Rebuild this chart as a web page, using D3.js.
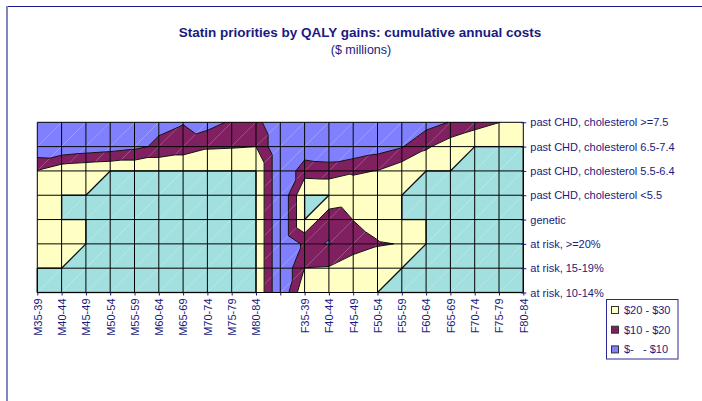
<!DOCTYPE html>
<html>
<head>
<meta charset="utf-8">
<script src="https://d3js.org/d3.v7.min.js"></script>
<style>
  body { margin: 0; background: #fff; }
  text { font-family: Arial, "Liberation Sans", sans-serif; fill: #1a1a80; }
</style>
</head>
<body>
<div id="chart"></div>
<script>

// categories along the bottom (blank column between the sexes)
var xCats = ["M35-39", "M40-44", "M45-49", "M50-54", "M55-59", "M60-64", "M65-69", "M70-74", "M75-79", "M80-84", "",
             "F35-39", "F40-44", "F45-49", "F50-54", "F55-59", "F60-64", "F65-69", "F70-74", "F75-79", "F80-84"];

// series, bottom to top
var yCats = ["at risk, 10-14%", "at risk, 15-19%", "at risk, >=20%", "genetic",
             "past CHD, cholesterol <5.5", "past CHD, cholesterol 5.5-6.4",
             "past CHD, cholesterol 6.5-7.4", "past CHD, cholesterol >=7.5"];

// cumulative cost ($ millions) for each series, one value per x category (30 = top of axis)
var risk10_14 = [30, 30, 30, 30, 30, 30, 30, 30, 30, 30, 0, 28.5, 27, 28, 30, 30, 30, 30, 30, 30, 30];
var risk15_19 = [30, 30, 30, 30, 30, 30, 30, 30, 30, 30, 0, 20.2, 20.8, 26.4, 28.5, 30, 30, 30, 30, 30, 30];
var risk20    = [26, 27, 30, 30, 30, 30, 30, 30, 30, 30, 0, 12, 9.5, 15, 19, 20.5, 30, 30, 30, 30, 30];
var genetic   = [27, 30, 30, 30, 30, 30, 30, 30, 30, 30, 0, 30, 12.5, 20.2, 25, 30, 30, 30, 30, 30, 30];
var chdLt55   = [26, 30, 30, 30, 30, 30, 30, 30, 30, 30, 0, 30, 30, 27, 28, 30, 30, 30, 30, 30, 30];
var chd55_64  = [20.6, 27.5, 28.9, 30, 30, 30, 30, 30, 30, 30, 0, 15.7, 15, 18.5, 20.3, 26.5, 30, 30, 30, 30, 30];
var chd65_74  = [1.3, 0.5, 3, 4.8, 7.5, 12, 14.8, 18.8, 19.3, 20, 0, 3, 1.1, 1.7, 5.4, 9.3, 18.4, 25.6, 30, 30, 30];
var chdGe75   = [0.5, 0.5, 1, 1.5, 3, 7.5, 9.5, 5.6, 11.7, 13.5, 0, 1, 1, 1, 2, 4, 6, 10.5, 15.5, 19.8, 24];

var bandLabels = ["$-   - $10", "$10 - $20", "$20 - $30"];
var bandBreaks = [10, 20, 30];

var grid = [risk10_14, risk15_19, risk20, genetic, chdLt55, chd55_64, chd65_74, chdGe75];

var colors = ["#8080ff", "#802060", "#ffffc4", "#a2e0e0"];
var lineColor = "#101010";
var navy = "#1a1a80";

var W = 702, H = 401;
var svg = d3.select("#chart").append("svg")
    .attr("width", W).attr("height", H);

// chart area frame
svg.append("line").attr("x1", 7).attr("x2", W).attr("y1", 6.5).attr("y2", 6.5)
    .attr("stroke", "#1c1c8c").attr("stroke-width", 1);
svg.append("line").attr("x1", 7).attr("x2", 7).attr("y1", 6).attr("y2", H)
    .attr("stroke", "#8484c4").attr("stroke-width", 2);

// scales
var xPoint = d3.scalePoint().domain(xCats).range([37.3, 523.3]);
var yPoint = d3.scalePoint().domain(yCats).range([292.5, 122.3]);
var x = d3.scaleLinear().domain([0, xCats.length - 1]).range(xPoint.range());
var y = d3.scaleLinear().domain([0, yCats.length - 1]).range(yPoint.range());

// title
svg.append("text").attr("x", 360).attr("y", 37).attr("text-anchor", "middle")
    .style("font-weight", "bold").style("font-size", "13.5px")
    .text("Statin priorities by QALY gains: cumulative annual costs");
svg.append("text").attr("x", 361).attr("y", 54).attr("text-anchor", "middle")
    .style("font-size", "12.5px")
    .text("($ millions)");

// triangles: each cell split along the lower-left / upper-right diagonal
function pt(c, r) { return {c: c, r: r, v: grid[r][c]}; }
var tris = [];
for (var r = 0; r < yCats.length - 1; r++) {
  for (var c = 0; c < xCats.length - 1; c++) {
    tris.push([pt(c, r), pt(c + 1, r), pt(c + 1, r + 1)]);
    tris.push([pt(c, r), pt(c + 1, r + 1), pt(c, r + 1)]);
  }
}

function clip(poly, t, above) {
  var out = [];
  for (var i = 0; i < poly.length; i++) {
    var a = poly[i], b = poly[(i + 1) % poly.length];
    var ina = above ? a.v >= t : a.v < t;
    var inb = above ? b.v >= t : b.v < t;
    if (ina) out.push(a);
    if (ina !== inb) {
      var k = (t - a.v) / (b.v - a.v);
      out.push({c: a.c + k * (b.c - a.c), r: a.r + k * (b.r - a.r), v: t});
    }
  }
  return out;
}

var line = d3.line().x(function(d) { return x(d.c); }).y(function(d) { return y(d.r); });

var fills = svg.append("g");
var lims = [-Infinity].concat(bandBreaks).concat([Infinity]);
tris.forEach(function(tri) {
  for (var b = 0; b < lims.length - 1; b++) {
    var p = tri;
    if (lims[b] > -Infinity) p = clip(p, lims[b], true);
    if (lims[b + 1] < Infinity) p = clip(p, lims[b + 1], false);
    if (p.length < 3) continue;
    var area = Math.abs(d3.polygonArea(p.map(function(d) { return [x(d.c), y(d.r)]; })));
    if (area < 0.01) continue;
    fills.append("path").attr("d", line(p) + "Z").attr("fill", colors[b]);
  }
});

// contour lines at 10 and 20
var iso = svg.append("g").attr("stroke", lineColor).attr("stroke-width", 1).attr("fill", "none");
[10, 20].forEach(function(t) {
  tris.forEach(function(tri) {
    var seg = [];
    for (var i = 0; i < 3; i++) {
      var a = tri[i], b = tri[(i + 1) % 3];
      if ((a.v >= t) !== (b.v >= t)) {
        var k = (t - a.v) / (b.v - a.v);
        seg.push({c: a.c + k * (b.c - a.c), r: a.r + k * (b.r - a.r)});
      }
    }
    if (seg.length === 2) iso.append("path").attr("d", line(seg));
  });
});

// outline of the region at the top of the axis
var edges = {};
tris.forEach(function(tri) {
  if (!tri.every(function(d) { return d.v >= 30; })) return;
  for (var i = 0; i < 3; i++) {
    var a = tri[i], b = tri[(i + 1) % 3];
    var key = [a.c + "," + a.r, b.c + "," + b.r].sort().join("|");
    if (!edges[key]) edges[key] = {n: 0, s: [a, b]};
    edges[key].n++;
  }
});
Object.keys(edges).forEach(function(k) {
  if (edges[k].n === 1) iso.append("path").attr("d", line(edges[k].s)).attr("stroke-width", 1.3);
});

// grid lines
var gridG = svg.append("g").attr("stroke", "#000").attr("stroke-width", 1);
xCats.forEach(function(d) {
  gridG.append("line").attr("x1", xPoint(d)).attr("x2", xPoint(d))
      .attr("y1", yPoint.range()[1]).attr("y2", yPoint.range()[0]);
});
yCats.forEach(function(d) {
  gridG.append("line").attr("y1", yPoint(d)).attr("y2", yPoint(d))
      .attr("x1", xPoint.range()[0]).attr("x2", xPoint.range()[1]);
});

// right axis with series names
var yAxis = svg.append("g")
    .attr("transform", "translate(" + xPoint.range()[1] + ",0)")
    .call(d3.axisRight(yPoint).tickSize(3).tickPadding(4).tickSizeOuter(0));
yAxis.select(".domain").remove();
yAxis.selectAll(".tick line").attr("x1", -2).attr("stroke", navy);
yAxis.selectAll("text").style("font-size", "11px").attr("fill", navy)
    .style("font-family", "Arial, 'Liberation Sans', sans-serif");

// bottom axis, labels turned upright
var xAxis = svg.append("g")
    .attr("transform", "translate(0," + yPoint.range()[0] + ")")
    .call(d3.axisBottom(xPoint).tickSize(3).tickSizeOuter(0));
xAxis.select(".domain").remove();
xAxis.selectAll(".tick line").attr("stroke", navy);
xAxis.selectAll("text")
    .attr("transform", "rotate(-90)")
    .attr("x", -6).attr("y", 0).attr("dy", "0.35em")
    .attr("text-anchor", "end")
    .style("font-size", "11px").attr("fill", navy)
    .style("font-family", "Arial, 'Liberation Sans', sans-serif");

// legend
var leg = svg.append("g").attr("transform", "translate(606.5,299.5)");
leg.append("rect").attr("width", 71.5).attr("height", 59.5)
    .attr("fill", "#fff").attr("stroke", "#2a2a90").attr("stroke-width", 1);
var order = [2, 1, 0];
order.forEach(function(b, i) {
  var g = leg.append("g").attr("transform", "translate(0," + (10.5 + i * 19.7) + ")");
  g.append("rect").attr("x", 5).attr("y", -3.5).attr("width", 7).attr("height", 7)
      .attr("fill", colors[b]).attr("stroke", "#333").attr("stroke-width", 1);
  g.append("text").attr("x", 17.5).attr("y", 4).style("font-size", "11px")
      .style("white-space", "pre").attr("xml:space", "preserve")
      .text(bandLabels[b]);
});

</script>
</body>
</html>
